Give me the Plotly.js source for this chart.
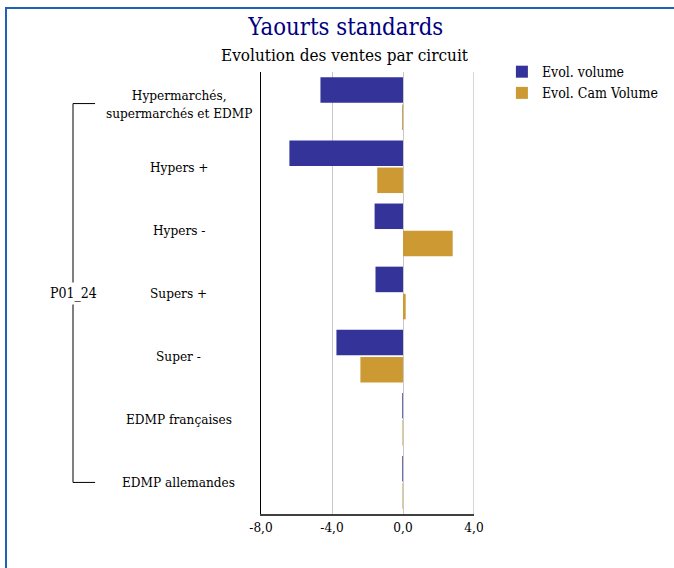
<!DOCTYPE html>
<html>
<head>
<meta charset="utf-8">
<script src="https://cdn.plot.ly/plotly-3.0.1.min.js"></script>
<style>
  html, body { margin: 0; padding: 0; background: #fff; }
  #frame { position: absolute; left: 5px; top: 7px; width: 669px; height: 561px;
           border-left: 2px solid #1f62b3; border-top: 2px solid #1f62b3; box-sizing: border-box; }
  #chart { position: absolute; left: 0; top: 0; width: 674px; height: 568px; }
</style>
</head>
<body>
<div id="frame"></div>
<div id="chart"></div>
<script>
const categories = [
  "Hypermarchés,<br>supermarchés et EDMP",
  "Hypers +",
  "Hypers -",
  "Supers +",
  "Super -",
  "EDMP françaises",
  "EDMP allemandes"
];
const evolVolume = [-4.65, -6.4, -1.6, -1.55, -3.75, -0.04, -0.04];
const evolCamVolume = [-0.05, -1.45, 2.8, 0.15, -2.4, -0.03, -0.03];
const groupLabel = "P01_24";
const xTickVals = [-8, -4, 0, 4];
const xTickText = ["-8,0", "-4,0", "0,0", "4,0"];

const FONT = "DejaVu Serif Condensed, DejaVu Serif, serif";
const GRID = "#c8c8c8";

const traces = [
  { type: "bar", orientation: "h", name: "Evol. volume", y: categories, x: evolVolume,
    marker: { color: "#333399" }, hoverinfo: "x+y" },
  { type: "bar", orientation: "h", name: "Evol. Cam Volume", y: categories, x: evolCamVolume,
    marker: { color: "#cc9933" }, hoverinfo: "x+y" }
];

const annotations = categories.map(c => ({
  xref: "paper", yref: "y", x: -0.387, y: c, text: c, showarrow: false,
  xanchor: "center", yanchor: "middle", align: "center",
  font: { family: FONT, size: 13.5, color: "#000" }
}));
annotations.push({
  xref: "paper", yref: "paper", x: 0.394, y: 1.038, text: "Evolution des ventes par circuit",
  showarrow: false, xanchor: "center", yanchor: "middle",
  font: { family: FONT, size: 17, color: "#000" }
});
annotations.push({
  xref: "paper", yref: "y", x: -0.8826, y: categories[3], text: groupLabel,
  showarrow: false, xanchor: "center", yanchor: "middle", bgcolor: "#ffffff", borderpad: 2,
  font: { family: FONT, size: 14, color: "#000" }
});

const first = categories[0], last = categories[categories.length - 1];
const xMax = xTickVals[xTickVals.length - 1];
const shapes = [
  { type: "line", xref: "paper", yref: "y", x0: -0.8826, x1: -0.8826, y0: first, y1: last,
    line: { color: "#000", width: 1 }, layer: "below" },
  { type: "line", xref: "paper", yref: "y", x0: -0.8826, x1: -0.779, y0: first, y1: first,
    line: { color: "#000", width: 1 } },
  { type: "line", xref: "paper", yref: "y", x0: -0.8826, x1: -0.779, y0: last, y1: last,
    line: { color: "#000", width: 1 } },
  { type: "line", xref: "x", yref: "paper", x0: xMax, x1: xMax, y0: 0, y1: 1,
    line: { color: GRID, width: 1.5 }, layer: "below" }
];

const layout = {
  width: 674, height: 568,
  margin: { l: 261, r: 200, t: 72, b: 54, pad: 0, autoexpand: false },
  paper_bgcolor: "rgba(0,0,0,0)", plot_bgcolor: "rgba(0,0,0,0)",
  font: { family: FONT, size: 13, color: "#000" },
  title: { text: "Yaourts standards", x: 0.513, xanchor: "center", y: 0.953, yanchor: "middle",
           font: { family: FONT, size: 23.7, color: "#000080" } },
  barmode: "group", bargap: 0.14, bargroupgap: 0.06,
  showlegend: true,
  legend: { x: 1.131, y: 1.036, xanchor: "left", yanchor: "top", tracegroupgap: 0,
            font: { family: FONT, size: 14, color: "#000" }, itemwidth: 30 },
  xaxis: { range: [-8, 4], tickvals: xTickVals, ticktext: xTickText, showgrid: true,
           gridcolor: GRID, gridwidth: 1, zeroline: true, zerolinecolor: GRID, zerolinewidth: 1,
           showline: true, layer: "below traces",
           linecolor: "#404040", linewidth: 1.5, ticks: "", ticklen: 0, automargin: false,
           tickfont: { family: FONT, size: 13.5, color: "#000" }, fixedrange: true },
  yaxis: { type: "category", autorange: "reversed", showticklabels: false, showgrid: false,
           zeroline: false, showline: true, linecolor: "#000", linewidth: 1.5, ticks: "",
           automargin: false, fixedrange: true },
  annotations: annotations,
  shapes: shapes
};

Plotly.newPlot("chart", traces, layout, { displayModeBar: false, staticPlot: true });
</script>
</body>
</html>
